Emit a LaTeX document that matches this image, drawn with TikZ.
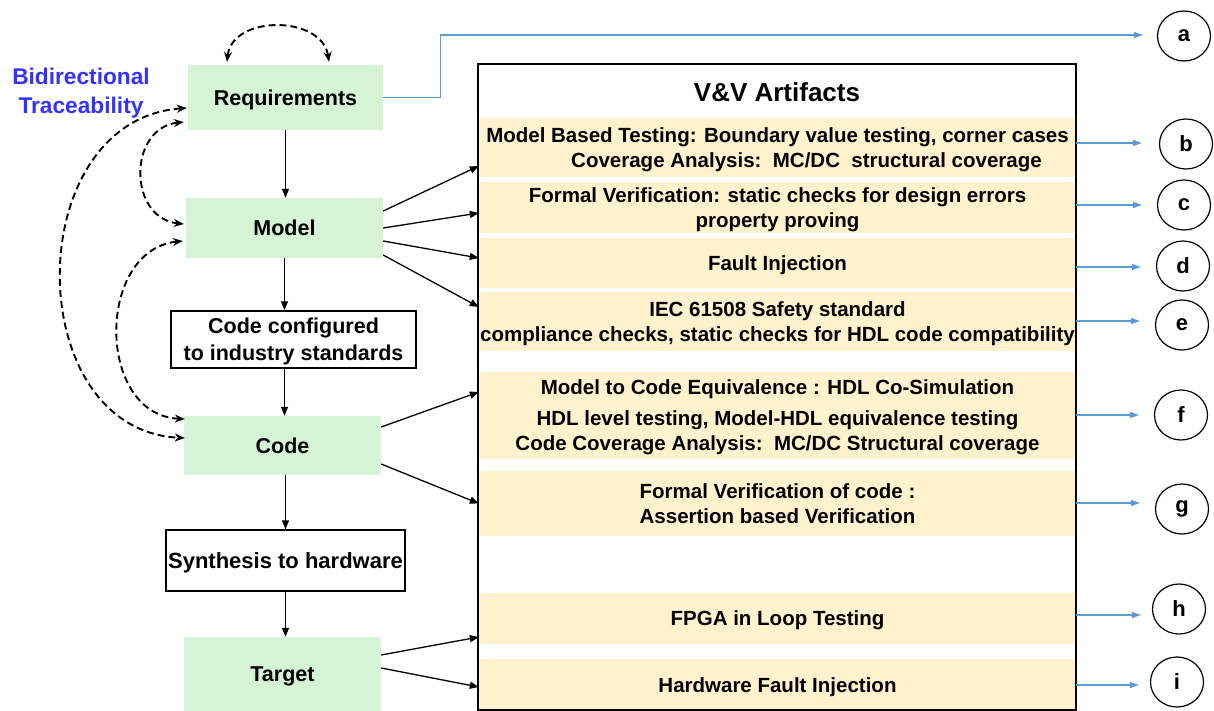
\documentclass[tikz,border=0pt]{standalone}
\usepackage{fontspec}
\setmainfont{Liberation Sans}
\usetikzlibrary{arrows.meta,calc,shapes.geometric}
\definecolor{boxgreen}{HTML}{D5F3D5}
\definecolor{bandyellow}{HTML}{FFF2CC}
\definecolor{linkblue}{HTML}{5B9BD5}
\definecolor{traceblue}{HTML}{3333FF}

\begin{document}
\begin{tikzpicture}[x=1pt,y=-1pt,
  stage/.style={fill=boxgreen, inner sep=0pt, text depth=0pt, font=\bfseries\fontsize{21.5}{26}\selectfont},
  plainbox/.style={draw=black, line width=1.5pt, fill=white, inner sep=0pt, align=center},
  band/.style={fill=bandyellow, inner sep=0pt, text depth=0pt, minimum width=597pt, align=center,
    font=\bfseries\fontsize{20.5}{25}\selectfont},
  tag/.style={ellipse, draw=black, line width=1.2pt, minimum width=53pt, minimum height=50pt,
    inner sep=0pt, font=\bfseries\fontsize{22}{22}\selectfont},
  flow/.style={-{Triangle[length=9pt,width=7pt]}, line width=1.3pt},
  trace/.style={{Stealth[length=10pt,width=8pt]}-{Stealth[length=10pt,width=8pt]},
    dash pattern=on 7pt off 4pt, line width=1.9pt},
  link/.style={-{Triangle[length=9pt,width=6pt]}, draw=linkblue, line width=1.3pt},
]
\useasboundingbox[fill=white] (0,0) rectangle (1214,711);

% development flow
\node[stage, minimum width=195pt, minimum height=65pt] (req) at (285.5,97.5) {Requirements};
\node[stage, minimum width=197pt, minimum height=60pt] (model) at (284.5,228) {Model};
\node[plainbox, minimum width=245pt, minimum height=57pt, text depth=0pt,
  font=\bfseries\fontsize{21.5}{27}\selectfont] (cfg) at (293.5,339.5) {Code configured\\ to industry standards};
\node[stage, minimum width=197pt, minimum height=59pt] (code) at (282.5,445.5) {Code};
\node[plainbox, minimum width=239pt, minimum height=61pt, text depth=0pt,
  font=\bfseries\fontsize{22}{26}\selectfont] (synth) at (285.5,560.5) {Synthesis to hardware};
\node[stage, minimum width=197pt, minimum height=74pt] (target) at (282.5,674) {Target};

\node[text=traceblue, align=center, font=\bfseries\fontsize{22.7}{29}\selectfont]
  (tracelabel) at (81,93.5) {Bidirectional\\Traceability};

% V&V artifact bands
\node[band, minimum height=59pt] (b) at (777.5,147.5)
  {Model Based Testing: Boundary value testing, corner cases\\
   \hspace*{58pt}Coverage Analysis:\ \ MC/DC\ \ structural coverage};
\node[band, minimum height=51pt] (c) at (777.5,207.5)
  {Formal Verification: static checks for design errors\\ property proving};
\node[band, minimum height=50pt] (d) at (777.5,263) {Fault Injection};
\node[band, minimum height=59pt] (e) at (777.5,321.5)
  {IEC 61508 Safety standard\\ compliance checks, static checks for HDL code compatibility};
\node[band, minimum height=87pt] (f) at (777.5,415.5)
  {Model to Code Equivalence : HDL Co-Simulation\\[6pt]
   HDL level testing, Model-HDL equivalence testing\\
   Code Coverage Analysis:\ \ MC/DC Structural coverage};
\node[band, minimum height=65pt] (g) at (777.5,503.5)
  {Formal Verification of code :\\ Assertion based Verification};
\node[band, minimum height=51pt] (h) at (777.5,618.5) {FPGA in Loop Testing};
\node[band, minimum height=52pt] (i) at (777.5,685) {Hardware Fault Injection};

\node[draw=black, line width=1.5pt, minimum width=598pt, minimum height=646pt, inner sep=0pt]
  (vv) at (777,387) {};
\node[font=\bfseries\fontsize{26}{30}\selectfont] (title) at (777,92) {V\&V Artifacts};

% reference labels
\node[tag] (la) at (1184,36) {a};
\node[tag] (lb) at (1186,144) {b};
\node[tag] (lc) at (1184,205) {c};
\node[tag] (ld) at (1183,266) {d};
\node[tag] (le) at (1182,325) {e};
\node[tag] (lf) at (1181,415) {f};
\node[tag] (lg) at (1182,509) {g};
\node[tag] (lh) at (1179,609) {h};
\node[tag] (li) at (1177,682) {i};

% flow arrows
\draw[flow] (req.south) -- (req.south |- model.north);
\draw[flow] (model.south) -- (model.south |- cfg.north);
\draw[flow] (model.south |- cfg.south) -- (model.south |- code.north);
\draw[flow] (synth.north |- code.south) -- (synth.north);
\draw[flow] (synth.south) -- (synth.south |- target.north);

% traceability links
\draw[trace] ([xshift=-58.5pt,yshift=3pt]req.north) .. controls +(5,-47) and +(-7,-47) ..
  ([xshift=43.5pt,yshift=3pt]req.north);
\draw[trace] ([xshift=-4pt,yshift=-24.5pt]req.west) .. controls +(-56,6) and +(-56,-6) ..
  ([xshift=-2pt,yshift=4pt]model.west);
\draw[trace] ([xshift=-1pt,yshift=-10.5pt]req.west) .. controls +(-167,12) and +(-165,-8) ..
  ([xshift=1pt,yshift=7.5pt]code.west);
\draw[trace] ([xshift=-3pt,yshift=-13pt]model.west) .. controls +(-87,9) and +(-89,-4) ..
  ([xshift=1pt,yshift=26.5pt]code.west);

% artifacts produced at each stage
\draw[flow] ([yshift=17pt]model.east) -- ([yshift=-18.5pt]b.west);
\draw[flow] (model.east) -- ([yshift=-5.5pt]c.west);
\draw[flow] ([yshift=-13pt]model.east) -- ([yshift=5pt]d.west);
\draw[flow] ([yshift=-27pt]model.east) -- ([yshift=14.5pt]e.west);
\draw[flow] ([yshift=18.5pt]code.east) -- ([yshift=23.5pt]f.west);
\draw[flow] ([yshift=-18.5pt]code.east) -- (g.west);
\draw[flow] ([yshift=19pt]target.east) -- ([yshift=-18.5pt]h.west);
\draw[flow] ([yshift=6pt]target.east) -- ([yshift=-2pt]i.west);

% links to labels
\draw[link] (req.east) -- ++(57,0) |- ($(la.west)+(-14,-1)$);
\draw[link] ($(b.east |- lb.west)+(0,-1)$) -- ($(lb.west)+(-17,-1)$);
\draw[link] (c.east |- lc.west) -- ($(lc.west)+(-15,0)$);
\draw[link] ($(d.east |- ld.west)+(0,1)$) -- ($(ld.west)+(-15,1)$);
\draw[link] ($(e.east |- le.west)+(0,-4)$) -- ($(le.west)+(-15,-4)$);
\draw[link] (f.east |- lf.west) -- ($(lf.west)+(-15,0)$);
\draw[link] ($(g.east |- lg.west)+(0,-6)$) -- ($(lg.west)+(-15,-6)$);
\draw[link] ($(h.east |- lh.west)+(0,6)$) -- ($(lh.west)+(-11,6)$);
\draw[link] ($(i.east |- li.west)+(0,3)$) -- ($(li.west)+(-11,3)$);
\end{tikzpicture}
\end{document}
